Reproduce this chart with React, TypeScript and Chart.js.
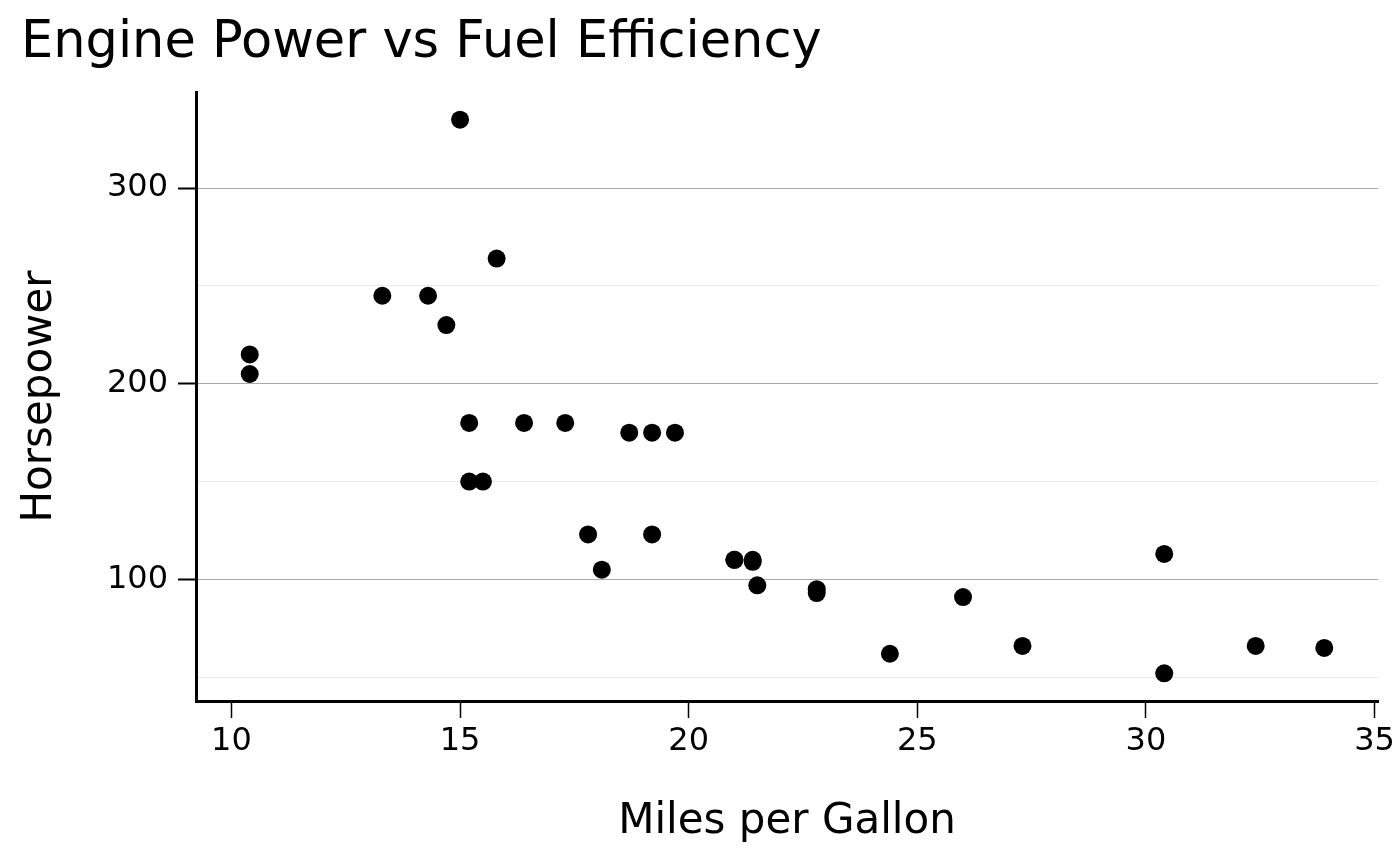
import React, { useEffect, useRef } from "react";
import { Chart, registerables } from "chart.js";

Chart.register(...registerables);

// mtcars: miles per gallon vs gross horsepower
const mpg = [21.0, 21.0, 22.8, 21.4, 18.7, 18.1, 14.3, 24.4, 22.8, 19.2, 17.8, 16.4, 17.3, 15.2, 10.4, 10.4, 14.7, 32.4, 30.4, 33.9, 21.5, 15.5, 15.2, 13.3, 19.2, 27.3, 26.0, 30.4, 15.8, 19.7, 15.0, 21.4];
const hp = [110, 110, 93, 110, 175, 105, 245, 62, 95, 123, 123, 180, 180, 180, 205, 215, 230, 66, 52, 65, 97, 150, 150, 245, 175, 66, 91, 113, 264, 175, 335, 109];

const xTicks = [10, 15, 20, 25, 30, 35];
const yTicks = [50, 100, 150, 200, 250, 300];
const yLabelTicks = [100, 200, 300];

const xRange = [9.225, 35.075];
const yRange = [37.85, 349.15];

const FONT = "'DejaVu Sans', sans-serif";

export default function App() {
  const ref = useRef<HTMLCanvasElement | null>(null);

  useEffect(() => {
    document.body.style.margin = "0";
    if (!ref.current) return;
    const points = mpg.map((m, i) => ({ x: m, y: hp[i] }));
    const chart = new Chart(ref.current, {
      type: "scatter",
      data: {
        datasets: [
          {
            data: points,
            backgroundColor: "#000000",
            borderWidth: 0,
            pointRadius: 9,
            pointHoverRadius: 9,
          },
        ],
      },
      options: {
        animation: false,
        responsive: true,
        maintainAspectRatio: false,
        layout: { padding: { left: 21, right: 22, top: 0, bottom: 0 } },
        plugins: {
          legend: { display: false },
          tooltip: { enabled: false },
          title: {
            display: true,
            text: "Engine Power vs Fuel Efficiency",
            align: "start",
            color: "#000000",
            font: { family: FONT, size: 51, weight: "normal", lineHeight: 1 },
            padding: { top: 18, bottom: 23 },
          },
        },
        scales: {
          x: {
            type: "linear",
            min: xRange[0],
            max: xRange[1],
            afterBuildTicks: (scale: any) => {
              scale.ticks = xTicks.map((v) => ({ value: v }));
            },
            afterFit: (scale: any) => {
              scale.height = 164;
            },
            border: { display: true, color: "#000000", width: 3 },
            grid: {
              drawOnChartArea: false,
              drawTicks: true,
              tickLength: 17,
              tickColor: "#000000",
              tickWidth: 1.5,
            },
            ticks: {
              color: "#000000",
              font: { family: FONT, size: 32 },
              padding: 4,
              maxRotation: 0,
              autoSkip: false,
            },
            title: {
              display: true,
              text: "Miles per Gallon",
              color: "#000000",
              font: { family: FONT, size: 42, lineHeight: 1 },
              padding: { top: 0, bottom: 22 },
            },
          },
          y: {
            type: "linear",
            min: yRange[0],
            max: yRange[1],
            afterBuildTicks: (scale: any) => {
              scale.ticks = yTicks.map((v) => ({ value: v }));
            },
            afterFit: (scale: any) => {
              scale.width = 175;
            },
            border: { display: true, color: "#000000", width: 3 },
            grid: {
              color: (ctx: any) =>
                ctx.tick && yLabelTicks.includes(ctx.tick.value) ? "#aaaaaa" : "#e8e8e8",
              lineWidth: 1,
              drawTicks: true,
              tickLength: 18,
              tickColor: (ctx: any) =>
                ctx.tick && yLabelTicks.includes(ctx.tick.value) ? "#000000" : "rgba(0,0,0,0)",
              tickWidth: 2,
            },
            ticks: {
              color: "#000000",
              font: { family: FONT, size: 32 },
              padding: 10,
              autoSkip: false,
              callback: (value: any) => (yLabelTicks.includes(Number(value)) ? String(value) : ""),
            },
            title: {
              display: true,
              text: "Horsepower",
              color: "#000000",
              font: { family: FONT, size: 42, lineHeight: 0.9 },
              padding: { top: 0, bottom: 0 },
            },
          },
        },
      },
    });
    return () => chart.destroy();
  }, []);

  return (
    <div style={{ position: "absolute", left: 0, top: 0, width: 1400, height: 865 }}>
      <canvas ref={ref} />
    </div>
  );
}
